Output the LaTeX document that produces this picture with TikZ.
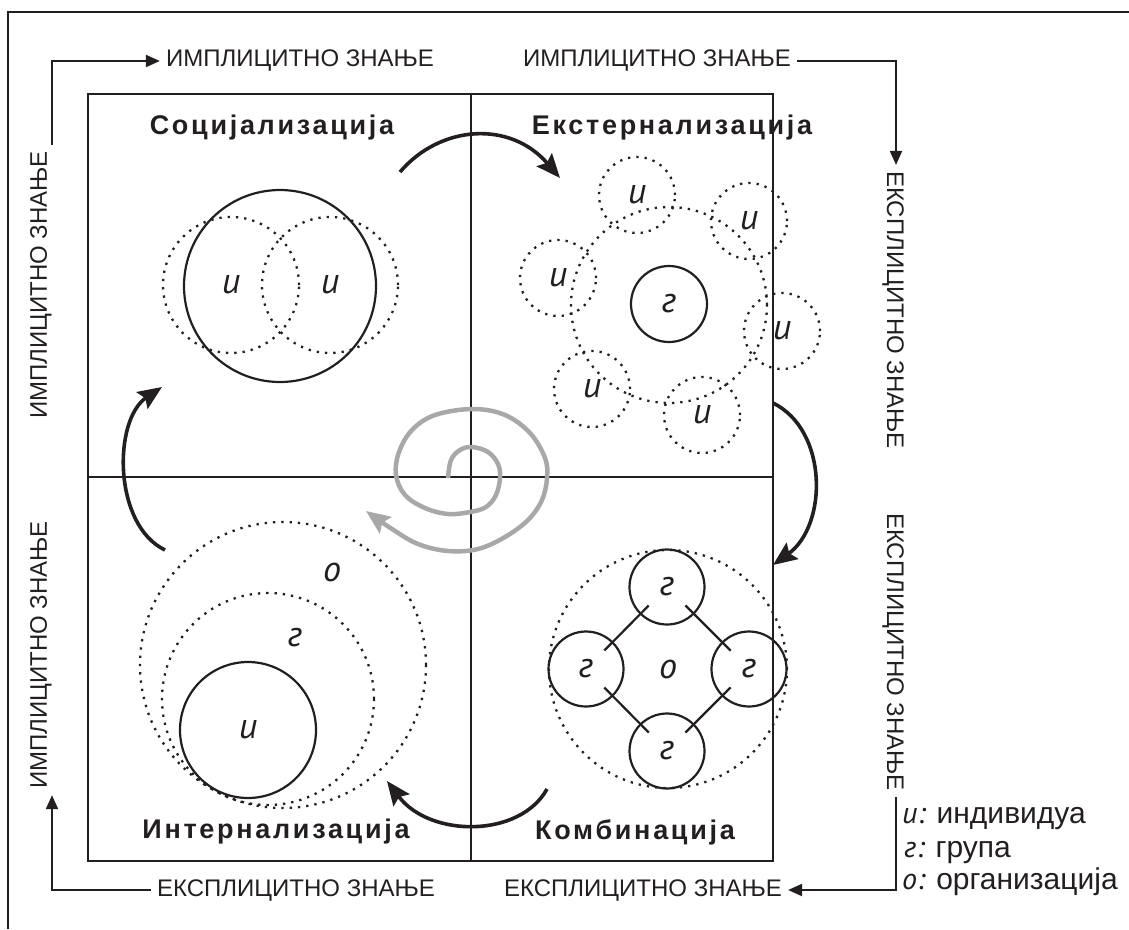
\documentclass[tikz,border=0pt]{standalone}
\usepackage{fontspec}
\setmainfont{Liberation Sans}
\newfontfamily\headfont[LetterSpace=10]{Liberation Sans}
\newfontfamily\letterfont{PT Sans}
\usetikzlibrary{arrows.meta,calc}
\definecolor{ink}{RGB}{35,31,32}
\definecolor{spiralgray}{RGB}{168,168,168}
\begin{document}
\begin{tikzpicture}[x=1pt,y=-1pt,
  every node/.style={text=ink},
  frameline/.style={draw=ink,line width=2pt},
  divider/.style={draw=ink,line width=2.2pt},
  axislabel/.style={font=\fontsize{24}{24}\selectfont,inner sep=6pt},
  heading/.style={font=\headfont\bfseries\fontsize{27}{27}\selectfont,inner sep=0pt},
  letter/.style={font=\letterfont\itshape\fontsize{36}{36}\selectfont,inner sep=0pt},
  solidring/.style={circle,draw=ink,line width=2.2pt,inner sep=0pt,minimum size=#1},
  dotring/.style={circle,draw=ink,line width=2.3pt,dash pattern=on 2.3pt off 6pt,inner sep=0pt,minimum size=#1},
  corner/.style={draw=ink,line width=2pt,-{Triangle[length=14pt,width=12pt]}},
  turn/.style={draw=ink,line width=3.6pt,-{Stealth[length=24pt,width=20pt,inset=4pt]}},
  spiral/.style={draw=spiralgray,line width=4.5pt,-{Stealth[length=24pt,width=20pt,inset=4pt]}},
  link/.style={draw=ink,line width=2.2pt},
  legend/.style={anchor=base west,inner sep=0pt,font=\fontsize{30}{30}\selectfont}
]
\useasboundingbox (0,0) rectangle (1129,929);

% outer frame (top and left edges)
\draw[frameline] (8,929) -- (8,12) -- (1129,12);

% four quadrants
\draw[frameline] (88,94) rectangle (773,861);
\draw[divider] (471,94) -- (471,861);
\draw[divider] (88,477) -- (773,477);

% quadrant headings
\node[heading] (soc) at (272,128) {Социјализација};
\node[heading] (ext) at (672,128) {Екстернализација};
\node[heading] (int) at (276,832) {Интернализација};
\node[heading] (comb) at (635,832) {Комбинација};

% axis labels around the square
\node[axislabel] (T1) at (300,61) {ИМПЛИЦИТНО ЗНАЊЕ};
\node[axislabel] (T2) at (657,61) {ИМПЛИЦИТНО ЗНАЊЕ};
\node[axislabel] (B1) at (296,890) {ЕКСПЛИЦИТНО ЗНАЊЕ};
\node[axislabel] (B2) at (643,890) {ЕКСПЛИЦИТНО ЗНАЊЕ};
\node[axislabel,rotate=90] (L1) at (41,285) {ИМПЛИЦИТНО ЗНАЊЕ};
\node[axislabel,rotate=90] (L2) at (41,655) {ИМПЛИЦИТНО ЗНАЊЕ};
\node[axislabel,rotate=-90] (R1) at (893,310) {ЕКСПЛИЦИТНО ЗНАЊЕ};
\node[axislabel,rotate=-90] (R2) at (893,652) {ЕКСПЛИЦИТНО ЗНАЊЕ};

% corner connectors
\draw[corner] ([xshift=11pt]L1.east) |- (T1.west);
\draw[corner] (T2.east) -| ([xshift=3pt]R1.west);
\draw[corner] ([xshift=3pt]R2.east) |- (B2.east);
\draw[corner] (B1.west) -| ([xshift=11pt]L2.west);

% legend
\node[legend] (lg1) at (902,823) {{\letterfont\itshape и:} индивидуа};
\node[legend] (lg2) at (904,857) {{\letterfont\itshape г:} група};
\node[legend] (lg3) at (902,889) {{\letterfont\itshape о:} организација};

% socialization: two individuals inside a shared circle
\node[solidring=192pt] (sbig) at (280,286) {};
\node[dotring=136pt,letter] (s1) at (231,285) {и};
\node[dotring=136pt,letter] (s2) at (330,285) {и};

% externalization: a group surrounded by individuals
\node[dotring=196pt] (eorbit) at (669,305) {};
\node[solidring=76pt,letter] (eg) at (669,304) {г};
\node[dotring=76pt,letter] (e1) at (637,195) {и};
\node[dotring=76pt,letter] (e2) at (749,221) {и};
\node[dotring=76pt,letter] (e3) at (558,278) {и};
\node[dotring=76pt,letter] (e4) at (782,331) {и};
\node[dotring=76pt,letter] (e5) at (592,389) {и};
\node[dotring=76pt,letter] (e6) at (702,415) {и};

% internalization: nested organization, group and individual
\node[dotring=286pt] (iorg) at (283,665) {};
\node[dotring=212pt] (igrp) at (268,699) {};
\node[solidring=136pt,letter] (iind) at (248,730) {и};
\node[letter] (iorglbl) at (332,572) {о};
\node[letter] (igrplbl) at (295,638) {г};

% combination: four linked groups in an organization
\node[dotring=238pt,letter] (corg) at (668,669) {о};
\node[solidring=75pt,letter] (ct) at (667,587) {г};
\node[solidring=75pt,letter] (cl) at (586,669) {г};
\node[solidring=75pt,letter] (cr) at (749,669) {г};
\node[solidring=75pt,letter] (cb) at (667,751) {г};
\draw[link] ($(ct)!26pt!(cl)$) -- ($(cl)!26pt!(ct)$);
\draw[link] ($(ct)!26pt!(cr)$) -- ($(cr)!26pt!(ct)$);
\draw[link] ($(cb)!26pt!(cl)$) -- ($(cl)!26pt!(cb)$);
\draw[link] ($(cb)!26pt!(cr)$) -- ($(cr)!26pt!(cb)$);

% cycle arrows between the quadrants
\coordinate (a1s) at (400,172);
\coordinate (a1e) at (560,178);
\coordinate (a2s) at (773,403);
\coordinate (a2e) at (773,565);
\coordinate (a3s) at (547,789);
\coordinate (a3e) at (387,781);
\coordinate (a4s) at (165,550);
\coordinate (a4e) at (162,387);
\draw[turn] (a1s) .. controls (440,125) and (510,120) .. (a1e);
\draw[turn] (a2s) .. controls (828,430) and (828,525) .. (a2e);
\draw[turn] (a3s) .. controls (520,838) and (430,838) .. (a3e);
\draw[turn] (a4s) .. controls (113,525) and (113,420) .. (a4e);

% knowledge spiral
\draw[spiral] plot[smooth,tension=0.6] coordinates {
  (448,478) (451,460) (460,450) (472,447) (488,452) (498,464) (500,478)
  (496,495) (486,507) (470,512) (448,514) (425,508) (405,495) (396,475)
  (399,452) (412,430) (435,415) (473,409) (505,415) (530,433) (545,458)
  (547,478) (542,500) (528,520) (505,537) (478,549) (448,551) (418,544)
  (392,529) (366,511)};
\end{tikzpicture}
\end{document}
